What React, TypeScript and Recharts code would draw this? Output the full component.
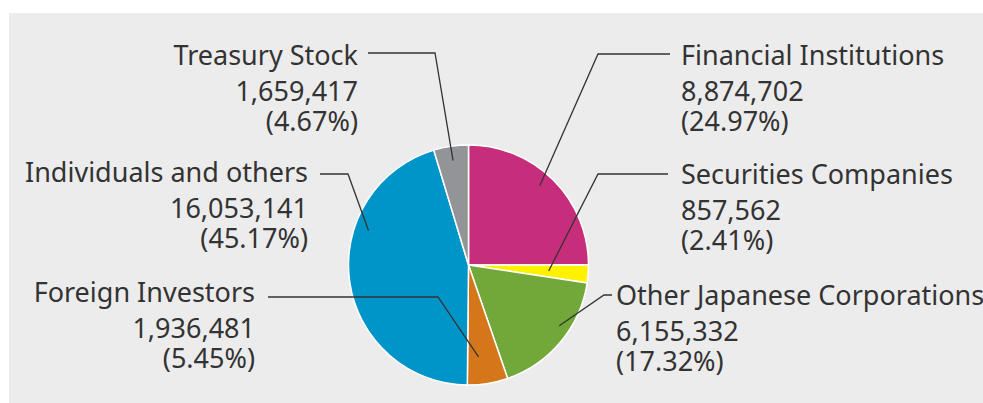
import { PieChart, Pie, Cell } from 'recharts'

// 所有者別株式数
const names = [
  'Financial Institutions',
  'Securities Companies',
  'Other Japanese Corporations',
  'Foreign Investors',
  'Individuals and others',
  'Treasury Stock',
]
const shares = [8874702, 857562, 6155332, 1936481, 16053141, 1659417]
const percents = ['24.97%', '2.41%', '17.32%', '5.45%', '45.17%', '4.67%']
const colors = ['#c62d7a', '#fff200', '#72a83a', '#d5761a', '#0095c8', '#929497']

// label layout: text x, name baseline, leader start / elbow, point depth, angle shift
const labelLayout = [
  { side: 'left', tx: 681, ty: 65, sx: 670, sy: 54, ex: 598, ey: 54, k: 0.89, off: 3 },
  { side: 'left', tx: 681, ty: 184, sx: 668, sy: 174, ex: 598, ey: 174, k: 0.67, off: 0 },
  { side: 'left', tx: 616, ty: 305, sx: 612, sy: 295, ex: 604, ey: 295, k: 0.91, off: 6 },
  { side: 'right', tx: 255, ty: 302, sx: 268, sy: 297, ex: 438, ey: 297, k: 0.77, off: -3 },
  { side: 'right', tx: 308, ty: 182, sx: 320, sy: 174, ex: 348, ey: 174, k: 0.88, off: -27 },
  { side: 'right', tx: 358, ty: 65, sx: 368, sy: 53, ex: 435, ey: 53, k: 0.88, off: 0 },
]

const data = names.map((name, i) => ({ name, value: shares[i], pct: percents[i] }))

const RAD = Math.PI / 180
const textStyle = { fontFamily: '"Noto Sans", sans-serif', fontSize: 27, fill: '#333' }

function renderLabel(props: any) {
  const { cx, cy, midAngle, outerRadius, index } = props
  const l = labelLayout[index]
  const d = data[index]
  const a = (midAngle + l.off) * RAD
  const px = cx + outerRadius * l.k * Math.cos(a)
  const py = cy - outerRadius * l.k * Math.sin(a)
  const anchor = l.side === 'left' ? 'start' : 'end'
  return (
    <g key={`lbl-${index}`}>
      <polyline
        points={`${l.sx},${l.sy} ${l.ex},${l.ey} ${px},${py}`}
        fill="none"
        stroke="#333"
        strokeWidth={1.3}
      />
      <text x={l.tx} y={l.ty} textAnchor={anchor} style={textStyle}>
        <tspan x={l.tx} y={l.ty}>{d.name}</tspan>
        <tspan x={l.tx} y={l.ty + 36}>{d.value.toLocaleString('en-US')}</tspan>
        <tspan x={l.tx} y={l.ty + 66}>({d.pct})</tspan>
      </text>
    </g>
  )
}

export default function App() {
  return (
    <div style={{ position: 'absolute', left: 0, top: 0, width: 983, height: 403, background: '#fff' }}>
      <div style={{ position: 'absolute', left: 9, top: 13, width: 974, height: 390, background: '#ececec' }} />
      <div style={{ position: 'absolute', left: 0, top: 0 }}>
        <PieChart width={983} height={403} margin={{ top: 0, right: 0, bottom: 0, left: 0 }}>
          <Pie
            data={data}
            dataKey="value"
            nameKey="name"
            cx={468.5}
            cy={265}
            outerRadius={120}
            startAngle={90}
            endAngle={-270}
            stroke="#fff"
            strokeWidth={1.5}
            label={renderLabel}
            labelLine={false}
            isAnimationActive={false}
          >
            {data.map((d, i) => (
              <Cell key={d.name} fill={colors[i]} />
            ))}
          </Pie>
        </PieChart>
      </div>
    </div>
  )
}
